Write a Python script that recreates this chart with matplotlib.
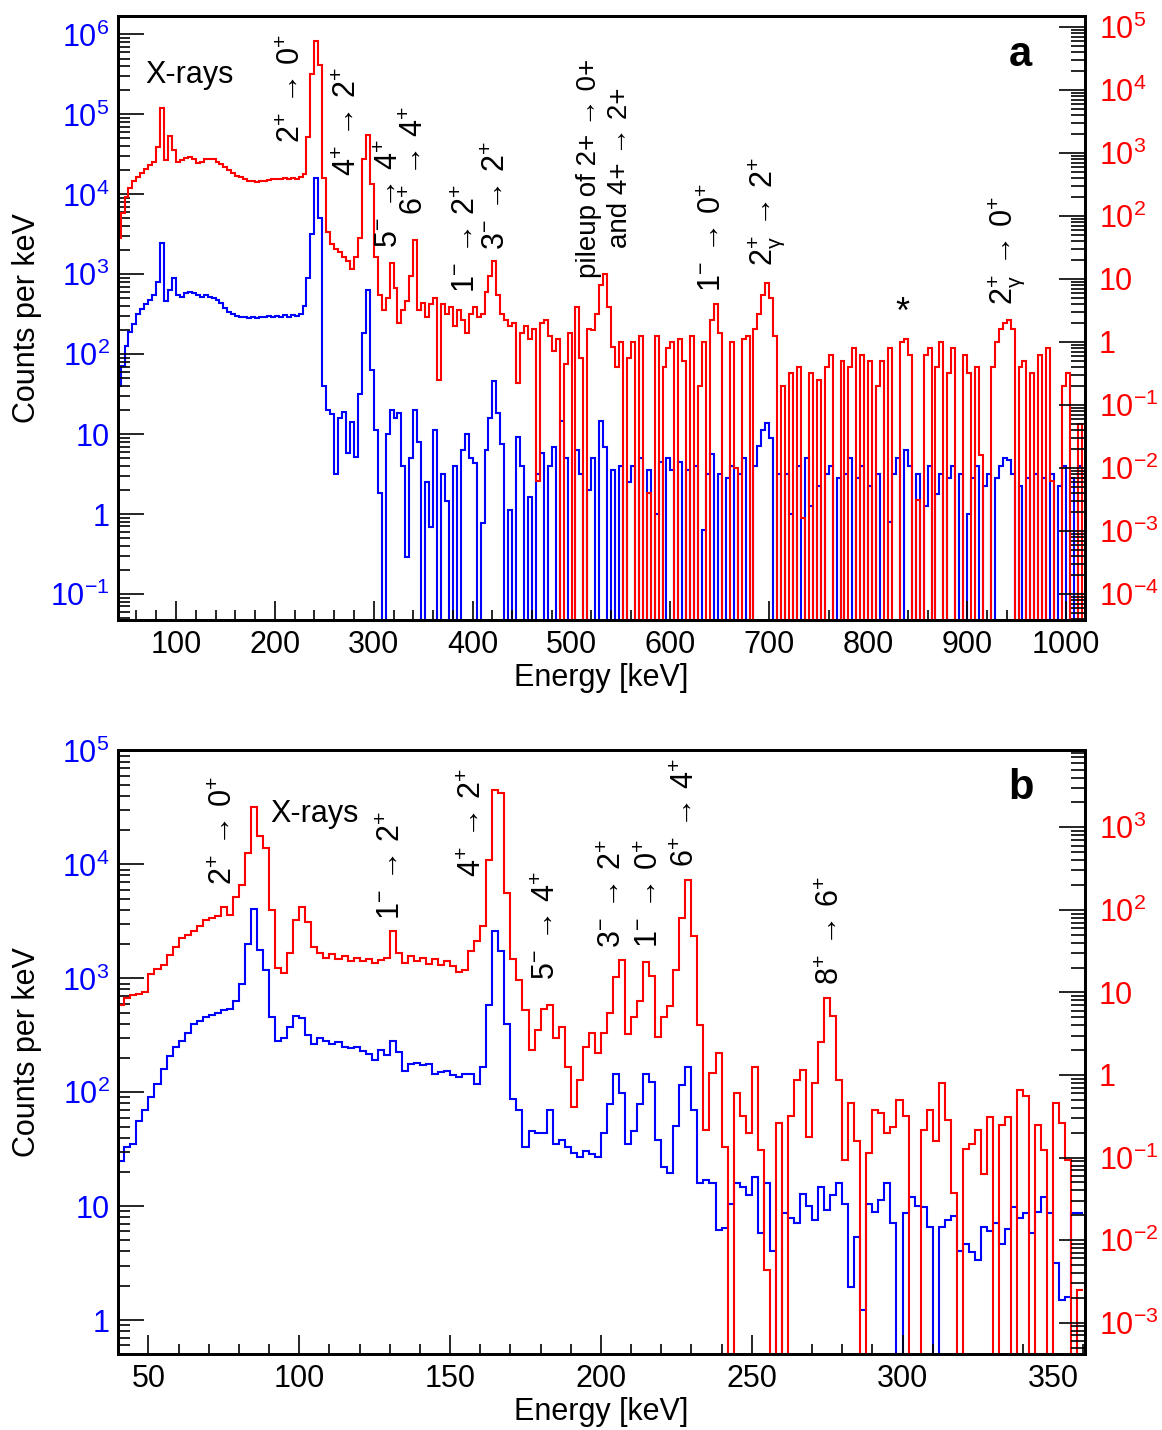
import numpy as np
import matplotlib
matplotlib.use("Agg")
import matplotlib.pyplot as plt
from matplotlib.ticker import FuncFormatter, MultipleLocator, LogLocator, NullFormatter

plt.rcParams['font.family'] = ['Liberation Sans', 'DejaVu Sans']
plt.rcParams['mathtext.fontset'] = 'custom'
plt.rcParams['mathtext.rm'] = 'Liberation Sans'
plt.rcParams['mathtext.it'] = 'Liberation Sans:italic'
plt.rcParams['mathtext.bf'] = 'Liberation Sans:bold'
plt.rcParams['mathtext.sf'] = 'Liberation Sans'
plt.rcParams['mathtext.default'] = 'regular'

BLUE = '#0000ff'
RED = '#ff0000'
FS = 22

# ---------------------------------------------------------------------------
# Panel a: 4 keV bins from 40 to 1020 keV, values are log10(counts per keV)
# blue -> left axis, red -> right axis, None = empty bin
# ---------------------------------------------------------------------------
a_bin_lo, a_bin_hi, a_bin_w = 40, 1020, 4

a_blue_log = [
    1.6, 1.85, 2.1, 2.28, 2.38, 2.5, 2.56, 2.63, 2.68, 2.74,            # 40-80
    2.9, 3.39, 2.66, 2.8, 2.95, 2.74, 2.72, 2.76, 2.78, 2.76,           # 80-120
    2.74, 2.72, 2.74, 2.72, 2.7, 2.68, 2.64, 2.58, 2.53, 2.5,           # 120-160
    2.48, 2.47, 2.47, 2.45, 2.47, 2.45, 2.47, 2.46, 2.48, 2.47,         # 160-200
    2.48, 2.46, 2.49, 2.47, 2.49, 2.48, 2.5, 2.6, 2.95, 3.5,            # 200-240
    4.21, 3.7, 1.6, 1.3, 1.25, 0.5, 1.2, 1.28, 0.76, 1.15,              # 240-280
    0.71, 1.5, 2.26, 2.8, 1.8, 1.05, 0.26, None, 1.0, 1.3,              # 280-320
    1.2, 1.26, 0.6, -0.54, 0.7, 1.3, 0.9, None, 0.4, -0.16,             # 320-360
    1.05, None, 0.5, 0.17, None, 0.6, None, 0.8, 1.0, 0.7,              # 360-400
    0.64, None, -0.11, 0.8, 1.2, 1.67, 1.26, 0.88, None, 0.05,          # 400-440
    None, 0.96, 0.6, None, 0.22, None, 0.5, 0.76, None, 0.6,            # 440-480
    0.84, None, 1.17, 0.7, None, None, 0.8, 0.5, None, 0.3,             # 480-520
    0.7, None, 1.17, 0.84, None, 0.55, None, 0.6, None, 0.4,            # 520-560
    0.6, None, 0.7, None, 0.55, None, 0.0, 0.65, None, 0.7,             # 560-600
    0.55, None, 0.65, None, 0.55, None, 0.6, None, -0.2, 0.5,           # 600-640
    0.75, None, 0.5, None, 0.45, 0.6, None, 0.5, 0.7, None,             # 640-680
    None, 0.6, 0.85, 1.05, 1.14, 0.95, None, 0.5, None, 0.5,            # 680-720
    0.0, None, 0.6, None, 0.7, 0.1, None, 0.35, None, 0.5,              # 720-760
    0.6, None, 0.45, None, 0.5, 0.7, None, 0.45, 0.6, None,             # 760-800
    0.35, None, 0.5, None, None, -0.1, 0.5, 0.7, None, 0.8,             # 800-840
    0.6, None, 0.5, None, 0.1, 0.6, None, 0.25, 0.5, None,              # 840-880
    0.45, 0.6, None, 0.5, None, 0.0, 0.45, 0.6, None, 0.35,             # 880-920
    0.5, None, 0.45, 0.6, 0.7, 0.68, 0.5, None, 0.35, None,             # 920-960
    0.45, None, 0.5, None, 0.45, None, 0.5, None, 0.35, 0.6,            # 960-1000
    None, 0.45, None, 0.6, 0.45,                                        # 1000-1020
]

a_red_log = [
    1.65, 2.05, 2.3, 2.45, 2.55, 2.62, 2.68, 2.74, 2.8, 2.86,           # 40-80
    3.1, 3.71, 2.88, 3.27, 3.05, 2.86, 2.88, 2.92, 2.94, 2.9,           # 80-120
    2.84, 2.86, 2.9, 2.91, 2.9, 2.86, 2.82, 2.78, 2.73, 2.68,           # 120-160
    2.64, 2.61, 2.58, 2.56, 2.55, 2.54, 2.56, 2.55, 2.57, 2.58,         # 160-200
    2.59, 2.58, 2.6, 2.59, 2.6, 2.59, 2.61, 2.66, 3.25, 4.25,           # 200-240
    4.77, 4.4, 2.6, 1.75, 1.55, 1.48, 1.42, 1.35, 1.28, 1.15,           # 240-280
    1.35, 1.65, 2.9, 3.28, 2.5, 1.35, 0.75, 0.5, 0.7, 1.25,             # 280-320
    0.85, 0.3, 0.5, 0.65, 1.05, 1.62, 0.5, 0.62, 0.4, 0.6,              # 320-360
    0.7, -0.6, 0.6, 0.45, 0.55, 0.25, 0.5, 0.35, 0.15, 0.45,            # 360-400
    0.55, 0.4, 0.45, 0.8, 1.05, 1.28, 0.75, 0.45, 0.35, 0.25,           # 400-440
    0.3, -0.65, 0.15, 0.25, 0.05, 0.2, -2.2, 0.3, 0.35, 0.1,            # 440-480
    -0.15, 0.05, None, -0.35, 0.15, None, 0.55, -0.25, None, 0.2,       # 480-520
    0.19, 0.45, 0.9, 1.08, 0.55, -0.08, -0.4, 0.0, None, -0.25,         # 520-560
    0.0, None, 0.1, None, -2.4, None, 0.1, None, -0.4, -0.1,            # 560-600
    0.0, None, 0.05, -0.3, None, 0.1, None, -0.7, 0.0, None,            # 600-640
    0.35, 0.6, 0.15, None, None, 0.0, -2.0, None, 0.05, 0.1,            # 640-680
    None, 0.2, 0.45, 0.75, 0.93, 0.7, 0.1, None, -0.7, None,            # 680-720
    -0.5, None, -0.4, -2.8, None, -0.5, None, -0.6, None, -0.4,         # 720-760
    -0.2, None, None, -0.3, None, -0.4, -0.1, None, -0.2, None,         # 760-800
    -0.3, None, -0.7, -0.3, None, -0.1, None, None, 0.0, 0.05,          # 800-840
    -0.2, None, -2.5, None, -0.2, -0.1, None, -0.4, 0.0, None,          # 840-880
    -0.5, -0.1, None, None, -0.2, -0.5, None, -0.4, -1.8, None,         # 880-920
    None, -0.4, 0.0, 0.2, 0.3, 0.35, 0.2, None, -0.4, -0.3,             # 920-960
    None, -0.5, None, -0.2, None, -0.1, -2.2, None, None, -0.7,         # 960-1000
    -0.5, None, None, -1.3, None,                                       # 1000-1020
]

# ---------------------------------------------------------------------------
# Panel b: 2 keV bins from 40 to 360 keV
# ---------------------------------------------------------------------------
b_bin_lo, b_bin_hi, b_bin_w = 40, 360, 2

b_blue_log = [
    1.4, 1.52, 1.55, 1.75, 1.84, 1.96, 2.07, 2.2, 2.32, 2.4,            # 40-60
    2.45, 2.52, 2.6, 2.63, 2.66, 2.68, 2.7, 2.72, 2.73, 2.8,            # 60-80
    2.95, 3.3, 3.61, 3.25, 3.07, 2.66, 2.45, 2.48, 2.57, 2.67,          # 80-100
    2.65, 2.5, 2.42, 2.48, 2.45, 2.42, 2.44, 2.4, 2.39, 2.4,            # 100-120
    2.36, 2.34, 2.28, 2.37, 2.33, 2.45, 2.35, 2.19, 2.25, 2.26,         # 120-140
    2.24, 2.25, 2.16, 2.18, 2.19, 2.15, 2.13, 2.16, 2.16, 2.07,         # 140-160
    2.22, 2.77, 3.42, 3.24, 2.6, 1.94, 1.84, 1.52, 1.66, 1.64,          # 160-180
    1.64, 1.84, 1.55, 1.58, 1.52, 1.47, 1.43, 1.48, 1.46, 1.43,         # 180-200
    1.64, 1.9, 2.16, 1.99, 1.55, 1.66, 1.9, 2.16, 2.09, 1.58,           # 200-220
    1.34, 1.29, 1.7, 2.06, 2.22, 1.84, 1.2, 1.23, 1.2, 0.79,            # 220-240
    0.81, 1.02, 1.2, 1.17, 1.1, 1.26, 0.76, 1.2, 0.61, None,            # 240-260
    0.94, 0.9, 0.85, 1.11, 1.0, 0.88, 1.17, 0.97, 1.1, 1.2,             # 260-280
    1.02, 0.29, 0.73, 0.09, 1.02, 0.95, 1.05, 1.2, 0.85, None,          # 280-300
    0.94, 1.08, 1.0, 0.99, 0.82, None, 0.82, 0.88, 0.91, 0.61,          # 300-320
    0.67, 0.6, 0.53, 0.82, 0.78, 0.85, 0.67, 0.8, 0.99, 0.9,            # 320-340
    0.94, 0.76, 0.95, 1.08, 0.94, 0.5, 0.18, 0.2, 0.94, 0.94,           # 340-360
]

b_red_log = [
    0.85, 0.93, 0.97, 0.98, 1.0, 1.22, 1.28, 1.33, 1.45, 1.55,          # 40-60
    1.66, 1.7, 1.74, 1.8, 1.88, 1.9, 1.92, 2.03, 1.94, 2.15,            # 60-80
    2.3, 2.69, 3.25, 2.9, 2.75, 2.0, 1.3, 1.23, 1.48, 1.88,             # 80-100
    2.04, 1.85, 1.55, 1.48, 1.42, 1.46, 1.4, 1.44, 1.38, 1.42,          # 100-120
    1.38, 1.41, 1.36, 1.39, 1.42, 1.74, 1.48, 1.36, 1.44, 1.38,         # 120-140
    1.42, 1.35, 1.4, 1.33, 1.38, 1.32, 1.25, 1.27, 1.5, 1.62,           # 140-160
    1.8, 2.6, 3.45, 3.41, 2.2, 1.4, 1.15, 0.79, 0.3, 0.54,              # 160-180
    0.8, 0.85, 0.45, 0.58, 0.1, -0.39, -0.06, 0.34, 0.51, 0.27,         # 180-200
    0.51, 0.75, 1.19, 1.39, 0.5, 0.7, 0.9, 1.37, 1.2, 0.46,             # 200-220
    0.7, 0.83, 1.27, 1.9, 2.36, 1.68, 0.6, -0.67, 0.02, 0.27,           # 220-240
    -0.87, None, -0.22, -0.5, -0.7, 0.1, -0.91, -2.36, None, -0.58,     # 240-260
    None, -0.5, -0.06, 0.06, -0.75, -0.1, 0.4, 0.93, 0.71, -0.06,       # 260-280
    -1.03, -0.34, -0.8, None, -0.95, -0.43, -0.46, -0.7, -0.63, -0.3,   # 280-300
    -0.5, None, None, -0.67, -0.43, -0.8, -0.1, -0.55, -1.43, None,     # 300-320
    -0.9, -0.83, -0.67, -1.2, -0.51, None, -0.6, -0.51, None, -0.18,    # 320-340
    -0.25, None, -0.6, -0.91, None, -0.34, -0.58, -1.03, None, -2.6,    # 340-360
]

# ---------------------------------------------------------------------------
# Peak labels (transition, energy position, bottom of label in axes fraction)
# ---------------------------------------------------------------------------
a_labels = [('2^{+}', '0^{+}'), ('4^{+}', '2^{+}'), ('5^{-}', '4^{+}'),
            ('6^{+}', '4^{+}'), ('1^{-}', '2^{+}'), ('3^{-}', '2^{+}'),
            ('1^{-}', '0^{+}'), ('2^{+}_{\\gamma}', '2^{+}'),
            ('2^{+}_{\\gamma}', '0^{+}')]
a_label_x = [217.3, 274.2, 316.4, 341.7, 394.5, 424.3, 643.3, 697.3, 939.9]
a_label_y = [0.789, 0.734, 0.615, 0.670, 0.541, 0.612, 0.543, 0.585, 0.521]

b_labels = [('2^{+}', '0^{+}'), ('1^{-}', '2^{+}'), ('4^{+}', '2^{+}'),
            ('5^{-}', '4^{+}'), ('3^{-}', '2^{+}'), ('1^{-}', '0^{+}'),
            ('6^{+}', '4^{+}'), ('8^{+}', '6^{+}')]
b_label_x = [75.0, 130.8, 157.7, 182.0, 204.1, 216.4, 228.2, 276.2]
b_label_y = [0.776, 0.719, 0.790, 0.619, 0.672, 0.672, 0.807, 0.611]


def counts(logs):
    return np.array([10.0 ** v if v is not None else 1e-12 for v in logs])


def decade_label(v, pos):
    e = int(round(np.log10(v)))
    if e == 0:
        return '1'
    if e == 1:
        return '10'
    return rf'$10^{{{e}}}$'


def transition(a, b):
    return f'${a}$ → ${b}$'


def style_log_axis(ax, side, color):
    ax.set_yscale('log')
    ax.yaxis.set_major_locator(LogLocator(base=10, numticks=30))
    ax.yaxis.set_minor_locator(LogLocator(base=10, subs=np.arange(2, 10), numticks=30))
    ax.yaxis.set_major_formatter(FuncFormatter(decade_label))
    ax.yaxis.set_minor_formatter(NullFormatter())
    left = side == 'left'
    ax.tick_params(axis='y', which='major', direction='in', length=19, width=1.2,
                   labelsize=FS, labelcolor=color, pad=6 if left else 10,
                   left=left, right=not left, labelleft=left, labelright=not left)
    ax.tick_params(axis='y', which='minor', direction='in',
                   length=8.5 if left else 10, width=1.2,
                   left=left, right=not left)


def make_panel(rect, lo, hi, w, blue_log, red_log, xlim, ylim_l, ylim_r, xmaj, xmin):
    ax = fig.add_axes(rect)
    edges = np.arange(lo, hi + w / 2, w)
    ax.stairs(counts(blue_log), edges, color=BLUE, lw=1.5, baseline=None)
    ax.set_xlim(*xlim)
    style_log_axis(ax, 'left', BLUE)
    ax.set_ylim(*ylim_l)
    ax.xaxis.set_major_locator(MultipleLocator(xmaj))
    ax.xaxis.set_minor_locator(MultipleLocator(xmin))
    ax.tick_params(axis='x', which='major', direction='in', length=14, width=1.2,
                   labelsize=FS, pad=7, top=False)
    ax.tick_params(axis='x', which='minor', direction='in', length=7, width=1.2, top=False)
    ax.set_xlabel('Energy [keV]', fontsize=FS, va='center')
    ax.xaxis.set_label_coords(0.5, -0.096)
    ax.set_ylabel('Counts per keV', fontsize=FS, va='center')
    ax.yaxis.set_label_coords(-0.094, 0.5)

    ax2 = ax.twinx()
    ax2.stairs(counts(red_log), edges, color=RED, lw=1.5, baseline=None)
    style_log_axis(ax2, 'right', RED)
    ax2.set_ylim(*ylim_r)
    ax2.set_xlim(*xlim)
    for a in (ax, ax2):
        for s in a.spines.values():
            s.set_linewidth(2)
    return ax, ax2


fig = plt.figure(figsize=(11.62, 14.30), dpi=100)

axa, axa2 = make_panel([0.10155, 0.56643, 0.83218, 0.42259],
                       a_bin_lo, a_bin_hi, a_bin_w, a_blue_log, a_red_log,
                       (41.4, 1019.2), (10 ** -1.325, 10 ** 6.235),
                       (10 ** -4.41, 10 ** 5.175), 100, 20)
axb, axb2 = make_panel([0.10155, 0.05315, 0.83218, 0.42238],
                       b_bin_lo, b_bin_hi, b_bin_w, b_blue_log, b_red_log,
                       (39.9, 360.5), (10 ** -0.298, 10 ** 5.005),
                       (10 ** -3.379, 10 ** 3.936), 50, 10)

# labels panel a
ta = axa2.get_xaxis_transform()
for (s, e), x, y in zip(a_labels, a_label_x, a_label_y):
    axa2.text(x, y, transition(s, e), transform=ta, rotation=90,
              ha='center', va='bottom', fontsize=FS)
axa2.text(533.2, 0.748, 'pileup of 2+ → 0+\nand 4+ → 2+', transform=ta,
          rotation=90, ha='center', va='center', multialignment='center',
          fontsize=20, linespacing=1.25)
axa2.text(113.7, 0.888, 'X-rays', transform=ta, ha='center', va='baseline', fontsize=FS)
axa2.text(835, 0.507, '*', transform=ta, ha='center', va='center', fontsize=FS + 4)
axa2.text(0.933, 0.935, 'a', transform=axa2.transAxes, ha='center', va='center',
          fontsize=30, fontweight='bold')

# labels panel b
tb = axb2.get_xaxis_transform()
for (s, e), x, y in zip(b_labels, b_label_x, b_label_y):
    axb2.text(x, y, transition(s, e), transform=tb, rotation=90,
              ha='center', va='bottom', fontsize=FS)
axb2.text(105.1, 0.881, 'X-rays', transform=tb, ha='center', va='baseline', fontsize=FS)
axb2.text(0.934, 0.937, 'b', transform=axb2.transAxes, ha='center', va='center',
          fontsize=30, fontweight='bold')

fig.savefig('out.png', dpi=100)
